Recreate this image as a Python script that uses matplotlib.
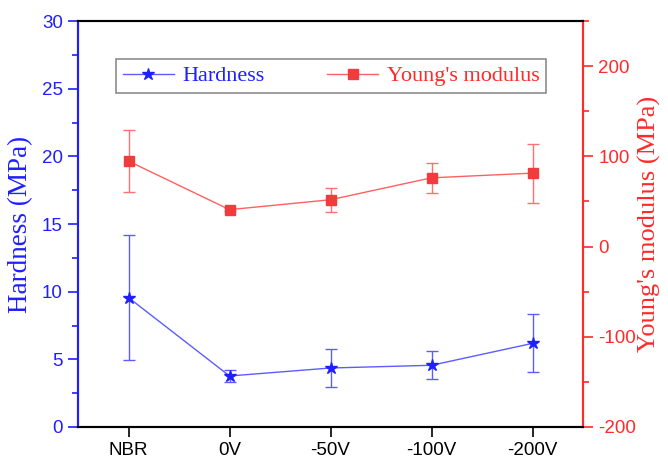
import matplotlib.pyplot as plt
from matplotlib.ticker import MultipleLocator

plt.rcParams['axes.unicode_minus'] = False

samples = ['NBR', '0V', '-50V', '-100V', '-200V']
hardness = [9.56, 3.77, 4.36, 4.56, 6.18]
hardness_err = [4.6, 0.42, 1.37, 1.05, 2.15]
modulus = [94.7, 40.9, 51.9, 76.2, 81.4]
modulus_err = [34.0, 1.5, 13.4, 16.4, 32.7]

blue = '#1f1fff'
red = '#ff2a2a'

fig = plt.figure(figsize=(6.68, 4.58), dpi=100)
ax = fig.add_axes([0.1168, 0.0677, 0.756, 0.8864])
ax2 = ax.twinx()

x = list(range(len(samples)))

# hardness on the left axis
h = ax.errorbar(x, hardness, yerr=hardness_err, color='#5c5cff', lw=1,
                marker='*', ms=9, mfc=blue, mec=blue, capsize=4,
                elinewidth=1, capthick=1, ecolor='#5c5cff')
# young's modulus on the right axis
m = ax2.errorbar(x, modulus, yerr=modulus_err, color='#ff6060', lw=1,
                 marker='s', ms=7, mfc='#f03c3c', mec='#f03c3c', capsize=4,
                 elinewidth=1, capthick=1, ecolor='#ff7070')

ax.set_xlim(-0.5, 4.5)
ax.set_ylim(0, 30)
ax2.set_ylim(-200, 250)
ax.set_xticks(x)
ax.set_xticklabels(samples, fontname='Liberation Sans', fontsize=13.5)

ax.yaxis.set_major_locator(MultipleLocator(5))
ax.yaxis.set_minor_locator(MultipleLocator(2.5))
ax2.yaxis.set_major_locator(MultipleLocator(100))
ax2.yaxis.set_minor_locator(MultipleLocator(50))

ax.tick_params(axis='x', direction='out', length=7, width=1.2, pad=4)
ax.tick_params(axis='y', which='major', direction='out', length=7, width=1.2,
               colors=blue, labelsize=13.5, pad=4)
ax.tick_params(axis='y', which='minor', direction='out', length=4, width=1.2,
               colors=blue)
ax2.tick_params(axis='y', which='major', direction='out', length=7, width=1.2,
                colors=red, labelsize=13.5, pad=4)
ax2.tick_params(axis='y', which='minor', direction='out', length=4, width=1.2,
                colors=red)
for lab in ax.get_yticklabels() + ax2.get_yticklabels():
    lab.set_fontname('Liberation Sans')

for a in (ax, ax2):
    for s in a.spines.values():
        s.set_linewidth(1.5)
ax2.spines['left'].set_color(blue)
ax2.spines['right'].set_color(red)
ax.spines['left'].set_color(blue)
ax.spines['right'].set_color(red)

ax.set_ylabel('Hardness (MPa)', fontname='Liberation Serif', fontsize=19.5,
              color=blue, labelpad=6)
ax2.set_ylabel("Young's modulus (MPa)", fontname='Liberation Serif',
               fontsize=19, color=red, labelpad=1.5)

leg = ax2.legend([h[0], m[0]], ['Hardness', "Young's modulus"], ncol=2,
                 loc='upper left', bbox_to_anchor=(0.075, 0.906),
                 borderaxespad=0, frameon=True, fancybox=False,
                 edgecolor='#707070', handlelength=2.3, columnspacing=2.8,
                 handletextpad=0.4, borderpad=0.3,
                 prop={'family': 'Liberation Serif', 'size': 16})
leg.get_frame().set_linewidth(1.2)
leg.texts[0].set_color(blue)
leg.texts[1].set_color(red)

fig.savefig('out.png', dpi=100)
